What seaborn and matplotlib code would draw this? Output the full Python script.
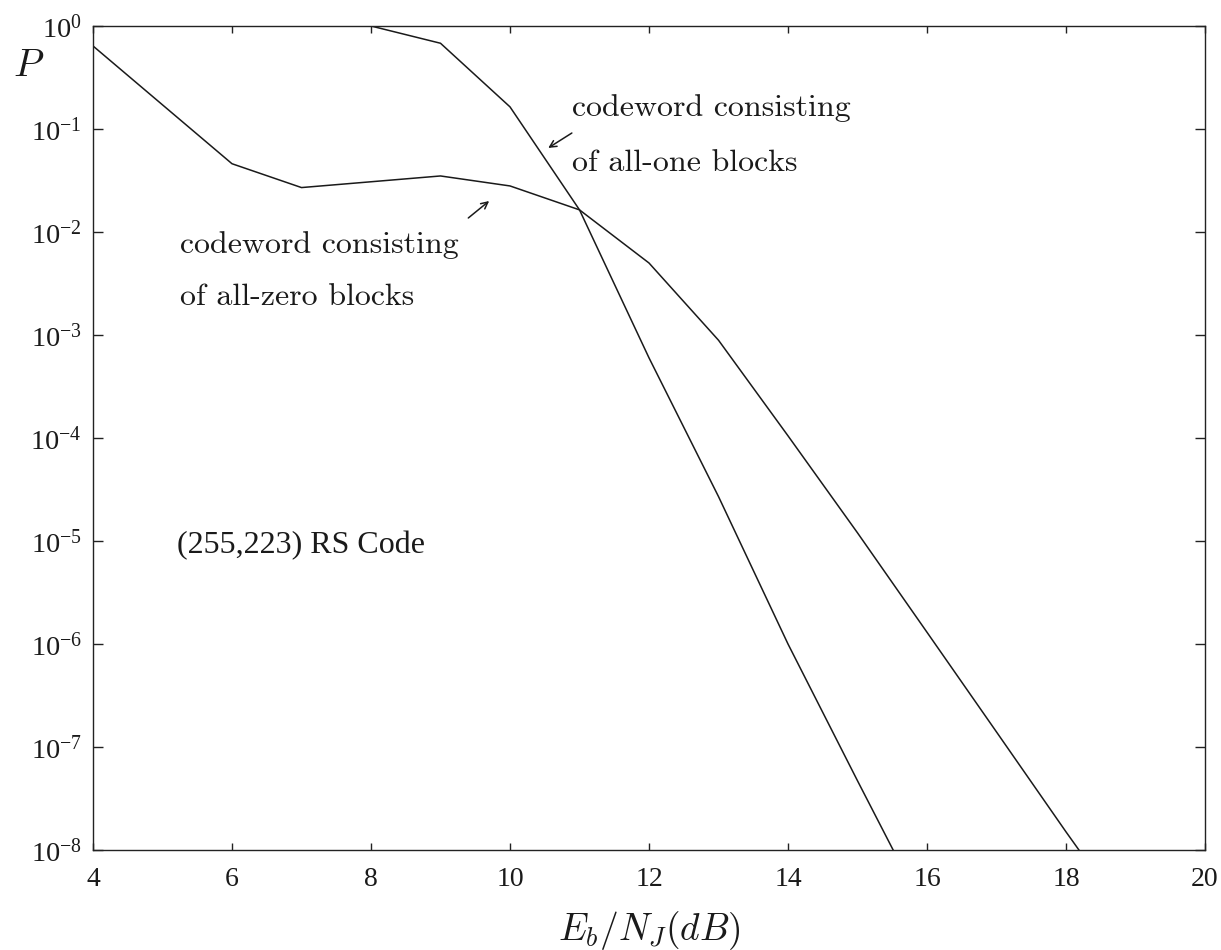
import numpy as np
import pandas as pd
import matplotlib
matplotlib.use("Agg")
import matplotlib.pyplot as plt
import seaborn as sns
from matplotlib.ticker import FixedLocator, LogFormatterMathtext, NullLocator

# Eb/NJ (dB) grid and block error probabilities for the two codewords
snr_zero = [4, 6, 7, 9, 10, 11, 12, 13, 14, 15, 16, 17, 18, 19]
p_zero = [0.64, 0.046, 0.027, 0.035, 0.028, 0.0164, 5.0e-3, 8.9e-4, 1.05e-4,
          1.2e-5, 1.3e-6, 1.4e-7, 1.5e-8, 1.7e-9]

snr_one = [8, 9, 10, 11, 12, 13, 14, 15, 16]
p_one = [1.0, 0.68, 0.164, 0.0164, 6.0e-4, 2.7e-5, 1.0e-6, 4.7e-8, 2.3e-9]

x_ticks = [4, 6, 8, 10, 12, 14, 16, 18, 20]
y_ticks = [1e0, 1e-1, 1e-2, 1e-3, 1e-4, 1e-5, 1e-6, 1e-7, 1e-8]

df = pd.concat([
    pd.DataFrame({"snr": snr_zero, "P": p_zero, "codeword": "all-zero"}),
    pd.DataFrame({"snr": snr_one, "P": p_one, "codeword": "all-one"}),
])

sns.set_theme(style="ticks")
plt.rcParams.update({
    "font.family": ["Liberation Serif", "DejaVu Serif"],
    "mathtext.fontset": "custom",
    "mathtext.rm": "Liberation Serif",
    "mathtext.it": "Liberation Serif:italic",
    "axes.unicode_minus": False,
    "axes.edgecolor": "#222222",
    "axes.linewidth": 1.0,
    "xtick.direction": "in",
    "ytick.direction": "in",
    "xtick.top": True,
    "ytick.right": True,
    "xtick.major.size": 5,
    "ytick.major.size": 7.5,
    "xtick.major.width": 1.0,
    "ytick.major.width": 1.0,
    "xtick.color": "#222222",
    "ytick.color": "#222222",
})

fig = plt.figure(figsize=(12.21, 9.5), dpi=100)
ax = fig.add_axes([93 / 1221, 1 - 850 / 950, (1205 - 93) / 1221, (850 - 26) / 950])

sns.lineplot(data=df, x="snr", y="P", units="codeword", estimator=None,
             color="#1a1a1a", linewidth=1.1, sort=False, ax=ax, legend=False)

ax.set_yscale("log")
ax.set_xlim(4, 20)
ax.set_ylim(1e-8, 1e0)
ax.xaxis.set_major_locator(FixedLocator(x_ticks))
ax.yaxis.set_major_locator(FixedLocator(y_ticks))
ax.yaxis.set_major_formatter(LogFormatterMathtext())
ax.yaxis.set_minor_locator(NullLocator())
ax.tick_params(axis="x", labelsize=20, labelcolor="#1a1a1a", pad=12)
ax.tick_params(axis="y", labelsize=20.5, labelcolor="#1a1a1a", pad=8)
for side in ("top", "right"):
    ax.spines[side].set_visible(True)

ax.set_xlabel("")
ax.set_ylabel("")
fig.text(649 / 1221, 1 - 930 / 950, r"$E_b/N_J(dB)$", fontsize=27,
         math_fontfamily="cm", color="#1a1a1a", ha="center", va="center")
fig.text(13 / 1221, 1 - 67 / 950, r"$P$", fontsize=28, math_fontfamily="cm",
         color="#1a1a1a", ha="left", va="center")

label_kw = dict(fontsize=23, family="cmr10", color="#1a1a1a",
                ha="left", va="center")
ax.text(10.89, 10 ** -0.796, "codeword consisting", **label_kw)
ax.text(10.89, 10 ** -1.330, "of all-one blocks", **label_kw)
ax.text(5.25, 10 ** -2.126, "codeword consisting", **label_kw)
ax.text(5.25, 10 ** -2.631, "of all-zero blocks", **label_kw)

arrow_kw = dict(arrowstyle="->", color="#1a1a1a", lw=1.1,
                shrinkA=0, shrinkB=0, mutation_scale=12)
ax.annotate("", xy=(10.55, 10 ** -1.184), xytext=(10.89, 10 ** -1.039),
            arrowprops=arrow_kw)
ax.annotate("", xy=(9.70, 10 ** -1.699), xytext=(9.40, 10 ** -1.864),
            arrowprops=arrow_kw)

ax.text(5.21, 10 ** -5.04, "(255,223) RS Code", fontsize=23,
        color="#1a1a1a", ha="left", va="center")

fig.savefig("out.png", dpi=100, facecolor="white")
